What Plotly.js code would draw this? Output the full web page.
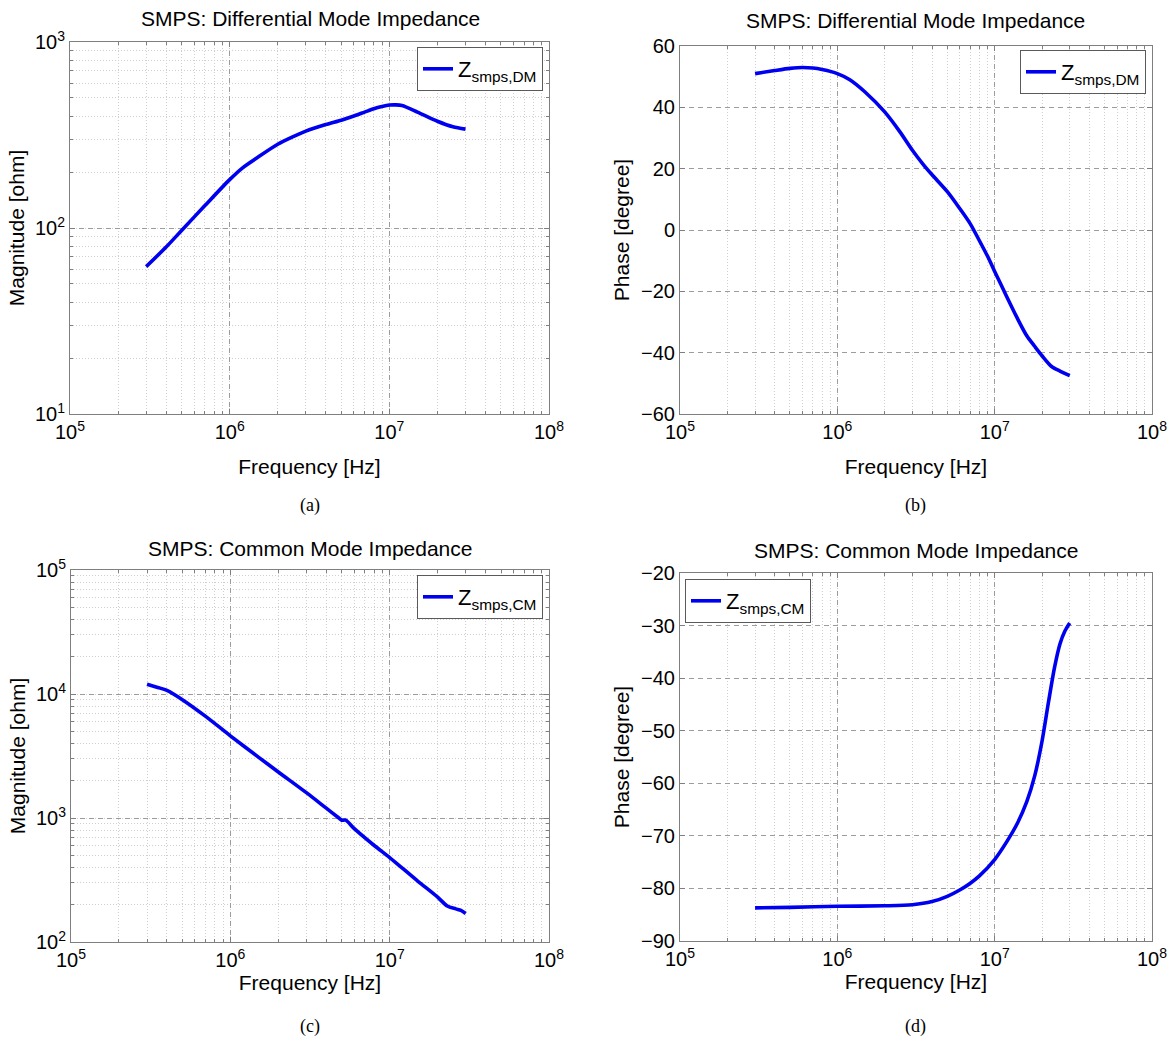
<!DOCTYPE html>
<html>
<head>
<meta charset="utf-8">
<script src="https://cdn.plot.ly/plotly-3.0.1.min.js"></script>
<style>html,body{margin:0;padding:0;background:#fff;}#chart{width:1175px;height:1038px;}</style>
</head>
<body>
<div id="chart"></div>
<script>
// ---- Data ----
// (a) Differential mode impedance magnitude [ohm]
const freqDMmag = [3e5, 4e5, 5e5, 7e5, 1e6, 1.2e6, 1.5e6, 2e6, 2.5e6, 3e6, 4e6, 5e6, 6e6, 7e6, 8e6, 9e6, 1e7, 1.1e7, 1.2e7, 1.5e7, 2e7, 2.5e7, 3e7];
const magDM     = [62, 79, 97, 132, 182, 210, 240, 282, 310, 332, 360, 380, 400, 420, 438, 450, 458, 459, 455, 420, 375, 350, 340];
// (b) Differential mode impedance phase [degree]
const freqDMph = [3e5, 4e5, 5e5, 6e5, 7e5, 8e5, 1e6, 1.2e6, 1.5e6, 2e6, 2.5e6, 3e6, 3.5e6, 4e6, 5e6, 6e6, 7e6, 8e6, 9e6, 1e7, 1.2e7, 1.4e7, 1.6e7, 1.8e7, 2e7, 2.3e7, 2.6e7, 3e7];
const phDM     = [51, 52, 52.7, 53, 52.8, 52.3, 51, 49, 45, 38.5, 32, 26, 21.5, 18, 12.5, 7, 2, -3.5, -8.5, -13.5, -22, -29, -34.5, -38, -41, -44.5, -46, -47.5];
// (c) Common mode impedance magnitude [ohm]
const freqCMmag = [3e5, 3.5e5, 4e5, 5e5, 7e5, 1e6, 1.5e6, 2e6, 3e6, 4e6, 4.8e6, 5e6, 5.3e6, 6e6, 8e6, 1e7, 1.5e7, 2e7, 2.3e7, 2.6e7, 2.8e7, 3e7];
const magCM     = [12000, 11300, 10700, 9000, 6600, 4600, 3100, 2350, 1600, 1200, 1000, 960, 960, 820, 600, 480, 310, 230, 195, 185, 180, 170];
// (d) Common mode impedance phase [degree]
const freqCMph = [3e5, 5e5, 1e6, 2e6, 3e6, 4e6, 5e6, 6e6, 7e6, 8e6, 1e7, 1.2e7, 1.4e7, 1.6e7, 1.8e7, 2e7, 2.2e7, 2.4e7, 2.6e7, 2.8e7, 3e7];
const phCM     = [-83.7, -83.6, -83.4, -83.3, -83.1, -82.5, -81.5, -80.3, -79, -77.6, -74.5, -71, -67.5, -63.5, -58.5, -52, -44.5, -38, -33.5, -31, -29.5];

const freqTicks = [1e5, 1e6, 1e7, 1e8];
const freqTickText = ['10<sup>5</sup>', '10<sup>6</sup>', '10<sup>7</sup>', '10<sup>8</sup>'];
const magTicksDM = [1e1, 1e2, 1e3];
const magTickTextDM = ['10<sup>1</sup>', '10<sup>2</sup>', '10<sup>3</sup>'];
const magTicksCM = [1e2, 1e3, 1e4, 1e5];
const magTickTextCM = ['10<sup>2</sup>', '10<sup>3</sup>', '10<sup>4</sup>', '10<sup>5</sup>'];

const seriesNameDM = 'Z<sub>smps,DM</sub>';
const seriesNameCM = 'Z<sub>smps,CM</sub>';
const titleDM = 'SMPS: Differential Mode Impedance';
const titleCM = 'SMPS: Common Mode Impedance';

// ---- Styling ----
const W = 1175, H = 1038;
const SANS = 'Liberation Sans, Arial, Helvetica, sans-serif';
const SERIF = 'Liberation Serif, Times New Roman, serif';
const BLUE = '#0000f0';
const lineStyle = {color: BLUE, width: 3.6, shape: 'spline', smoothing: 0.8};

function px(x) { return x / W; }
function py(y) { return 1 - y / H; }

function baseAxis(extra) {
  return Object.assign({
    showline: true, linecolor: '#7f7f7f', linewidth: 1,
    mirror: 'ticks', ticks: 'inside', ticklen: 5, tickcolor: '#7f7f7f',
    showgrid: true, gridcolor: '#9c9c9c', griddash: '5px,4px', gridwidth: 1,
    zeroline: false,
    tickfont: {family: SANS, size: 20, color: '#000'},
    automargin: false, fixedrange: true
  }, extra);
}
function logMinor() {
  return {dtick: 'D1', showgrid: true, gridcolor: '#cfcfcf', griddash: '1px,2px', gridwidth: 1,
          ticks: 'inside', ticklen: 3, tickcolor: '#7f7f7f'};
}
function axTitle(text, standoff) {
  return {text: text, font: {family: SANS, size: 21, color: '#000'}, standoff: standoff};
}
function freqAxis(dom, anchor, standoff) {
  return baseAxis({
    type: 'log', domain: dom, anchor: anchor, range: [5, 8],
    tickmode: 'array', tickvals: freqTicks, ticktext: freqTickText,
    minor: logMinor(),
    title: axTitle('Frequency [Hz]', standoff)
  });
}

const traces = [
  {x: freqDMmag, y: magDM, xaxis: 'x', yaxis: 'y', mode: 'lines', line: lineStyle, name: seriesNameDM, legend: 'legend'},
  {x: freqDMph, y: phDM, xaxis: 'x2', yaxis: 'y2', mode: 'lines', line: lineStyle, name: seriesNameDM, legend: 'legend2'},
  {x: freqCMmag, y: magCM, xaxis: 'x3', yaxis: 'y3', mode: 'lines', line: lineStyle, name: seriesNameCM, legend: 'legend3'},
  {x: freqCMph, y: phCM, xaxis: 'x4', yaxis: 'y4', mode: 'lines', line: lineStyle, name: seriesNameCM, legend: 'legend4'}
];

function legendAt(x, y, anchor) {
  return {x: px(x), y: py(y), xanchor: anchor, yanchor: 'top',
          bgcolor: '#fff', bordercolor: '#5a5a5a', borderwidth: 1,
          font: {family: SANS, size: 22, color: '#000'}, itemwidth: 30, tracegroupgap: 0};
}

function label(text, x, y, font, size) {
  return {xref: 'paper', yref: 'paper', x: px(x), y: py(y), text: text, showarrow: false,
          xanchor: 'center', yanchor: 'middle', font: {family: font, size: size, color: '#000'}};
}

const layout = {
  width: W, height: H,
  margin: {l: 0, r: 0, t: 0, b: 0},
  paper_bgcolor: '#fff', plot_bgcolor: '#fff',
  showlegend: true,
  xaxis: freqAxis([px(70), px(549)], 'y', 17),
  yaxis: baseAxis({type: 'log', domain: [py(414), py(42)], anchor: 'x', range: [1, 3],
    tickmode: 'array', tickvals: magTicksDM, ticktext: magTickTextDM, minor: logMinor(),
    title: axTitle('Magnitude [ohm]', 4)}),
  xaxis2: freqAxis([px(680), px(1152)], 'y2', 17),
  yaxis2: baseAxis({domain: [py(414), py(46)], anchor: 'x2', range: [-60, 60], dtick: 20, tick0: 0,
    title: axTitle('Phase [degree]', 5)}),
  xaxis3: freqAxis([px(71), px(549)], 'y3', 2),
  yaxis3: baseAxis({type: 'log', domain: [py(942), py(570)], anchor: 'x3', range: [2, 5],
    tickmode: 'array', tickvals: magTicksCM, ticktext: magTickTextCM, minor: logMinor(),
    title: axTitle('Magnitude [ohm]', 4)}),
  xaxis4: freqAxis([px(680), px(1152)], 'y4', 4),
  yaxis4: baseAxis({domain: [py(941), py(573)], anchor: 'x4', range: [-90, -20], dtick: 10, tick0: 0,
    title: axTitle('Phase [degree]', 5)}),
  legend: legendAt(543, 47, 'right'),
  legend2: legendAt(1146, 50, 'right'),
  legend3: legendAt(543, 575, 'right'),
  legend4: legendAt(685, 579, 'left'),
  annotations: [
    label(titleDM, 310, 18, SANS, 21),
    label(titleDM, 916, 21, SANS, 21),
    label(titleCM, 310, 548, SANS, 21),
    label(titleCM, 916, 550, SANS, 21),
    label('(a)', 310, 505, SERIF, 18),
    label('(b)', 916, 505, SERIF, 18),
    label('(c)', 310, 1026, SERIF, 18),
    label('(d)', 916, 1026, SERIF, 18)
  ]
};

Plotly.newPlot('chart', traces, layout, {displayModeBar: false, staticPlot: true});
</script>
</body>
</html>
